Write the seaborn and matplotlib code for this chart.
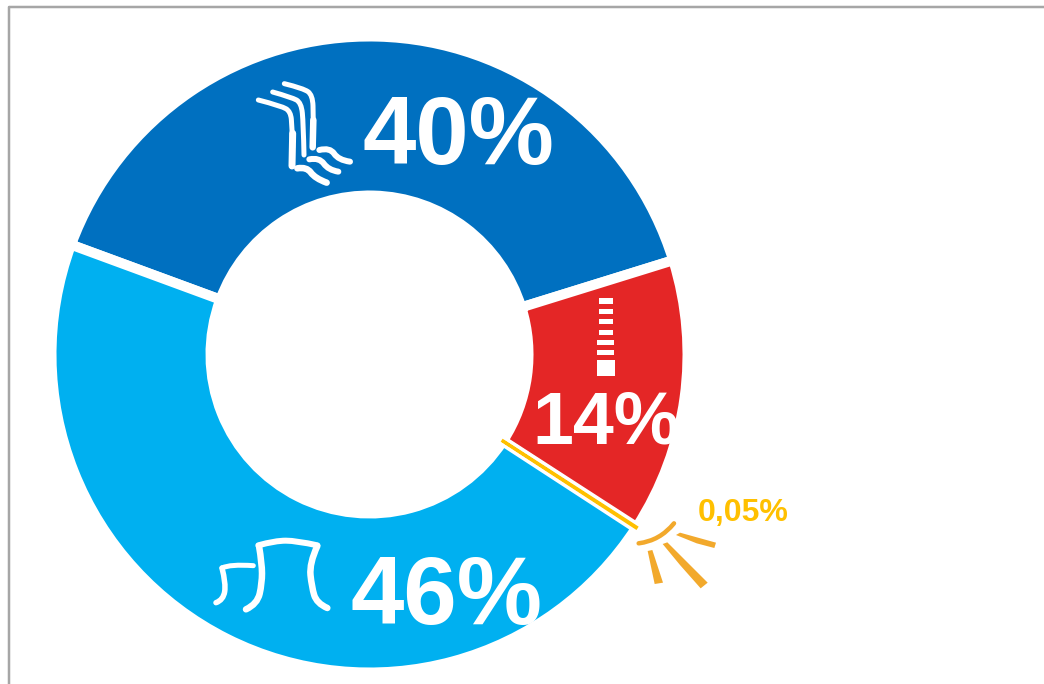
import matplotlib
matplotlib.use("Agg")
import matplotlib.pyplot as plt  # For the figure and the donut
import seaborn as sns            # For the theme and palette
from matplotlib.patches import PathPatch, Polygon, Rectangle
from matplotlib.path import Path

# Shares (the slices, going clockwise from the left)
sources = ["Hydro", "Wind", "Solar", "Nuclear"]
shares = [39.6, 13.92, 0.05, 46.43]
share_labels = ["40%", "14%", "0,05%", "46%"]
colors = ["#0070C0", "#E42626", "#FFC000", "#00B0F0"]

sns.set_theme(style="white")
plt.rcParams["font.family"] = ["Liberation Sans", "DejaVu Sans"]
palette = sns.color_palette(colors)

fig = plt.figure(figsize=(10.44, 6.84), dpi=100)
ax = fig.add_axes([0, 0, 1, 1])  # Axes in image pixels, y going down

px = 72 / 100  # One pixel in points

# Donut: with y flipped, counterclockwise comes out clockwise on screen
wedges, _ = ax.pie(shares, colors=palette, center=(369.5, 354.5), radius=318,
                   startangle=-159.8, frame=True,
                   wedgeprops=dict(width=159, edgecolor="white", linewidth=10 * px))
wedges[2].set_edgecolor(palette[2])
wedges[2].set_linewidth(3 * px)
wedges[2].set_zorder(5)

ax.set_xlim(0, 1044)
ax.set_ylim(684, 0)
ax.set_aspect("equal")
ax.axis("off")

# Gray frame, open on the right and at the bottom
ax.plot([9, 9, 1044], [684, 7, 7], color="#A6A6A6", lw=2.5 * px)


def from_zoom(x0, y0, pts):
    # Icon outlines were traced on 3x crops
    return [(x0 + x / 3, y0 + y / 3) for x, y in pts]


def stroke(x0, y0, pts, lw, color="white"):
    # Smooth line: inner points pull the curve, midpoints lie on it
    xy = from_zoom(x0, y0, pts)
    verts = [xy[0]]
    codes = [Path.MOVETO]
    for i in range(1, len(xy) - 1):
        end = xy[i + 1] if i == len(xy) - 2 else ((xy[i][0] + xy[i + 1][0]) / 2, (xy[i][1] + xy[i + 1][1]) / 2)
        verts += [xy[i], end]
        codes += [Path.CURVE3, Path.CURVE3]
    if len(xy) == 2:
        verts.append(xy[1])
        codes.append(Path.LINETO)
    ax.add_patch(PathPatch(Path(verts, codes), fill=False, edgecolor=color, lw=lw * px,
                           capstyle="round", joinstyle="round", zorder=6))


# Hydro icon
stroke(200, 60, [(175, 120), (245, 138), (272, 155), (276, 200), (278, 262)], 5)
stroke(200, 60, [(278, 220), (276, 318)], 7)
stroke(200, 60, [(218, 96), (275, 112), (304, 128), (310, 190), (312, 285)], 5)
stroke(200, 60, [(253, 71), (310, 85), (338, 105), (340, 170), (340, 255)], 5)
stroke(200, 60, [(340, 180), (338, 262)], 6.5)
stroke(200, 60, [(292, 325), (320, 320), (345, 355), (380, 368)], 6.5)
stroke(200, 60, [(328, 298), (358, 292), (385, 330), (415, 335)], 6)
stroke(200, 60, [(358, 270), (390, 262), (415, 300), (450, 305)], 6)

# Wind icon
for x, y, w, h in [(358, 55, 40, 17), (358, 87, 40, 15), (356, 118, 44, 15), (356, 149, 44, 15),
                   (352, 180, 50, 14), (352, 210, 50, 15), (350, 240, 56, 48)]:
    ax.add_patch(Rectangle((480 + x / 3, 280 + y / 3), w / 3, h / 3, color="white", lw=0, zorder=6))

# Nuclear icon
stroke(200, 520, [(138, 268), (172, 252), (186, 190), (186, 130), (177, 78)], 6.5)
stroke(200, 520, [(175, 76), (225, 62), (290, 62), (352, 76)], 6)
stroke(200, 520, [(352, 78), (328, 130), (335, 200), (350, 250), (382, 264)], 6.5)
stroke(200, 520, [(48, 248), (70, 240), (78, 190), (66, 144)], 5.5)
stroke(200, 520, [(66, 144), (90, 132), (160, 137)], 5)

# Solar icon
sun = "#F2A92C"
stroke(480, 280, [(476, 790), (540, 782), (582, 730)], 4.5, color=sun)
for outline in [[(588, 765), (600, 758), (708, 788), (703, 804), (650, 790)],
                [(503, 813), (517, 810), (549, 908), (524, 912)],
                [(548, 792), (562, 787), (683, 908), (662, 925), (600, 855)]]:
    ax.add_patch(Polygon(from_zoom(480, 280, outline), closed=True, color=sun, lw=0, zorder=6))

# Share labels
ax.text(363, 164, share_labels[0], color="white", fontsize=69, fontweight="bold", zorder=7)
ax.text(532, 444, share_labels[1], color="white", fontsize=53, fontweight="bold", zorder=7)
ax.text(698, 521, share_labels[2], color=palette[2], fontsize=23, fontweight="bold", zorder=7)
ax.text(351, 624, share_labels[3], color="white", fontsize=69, fontweight="bold", zorder=7)

fig.savefig("out.png", dpi=100, facecolor="white")
